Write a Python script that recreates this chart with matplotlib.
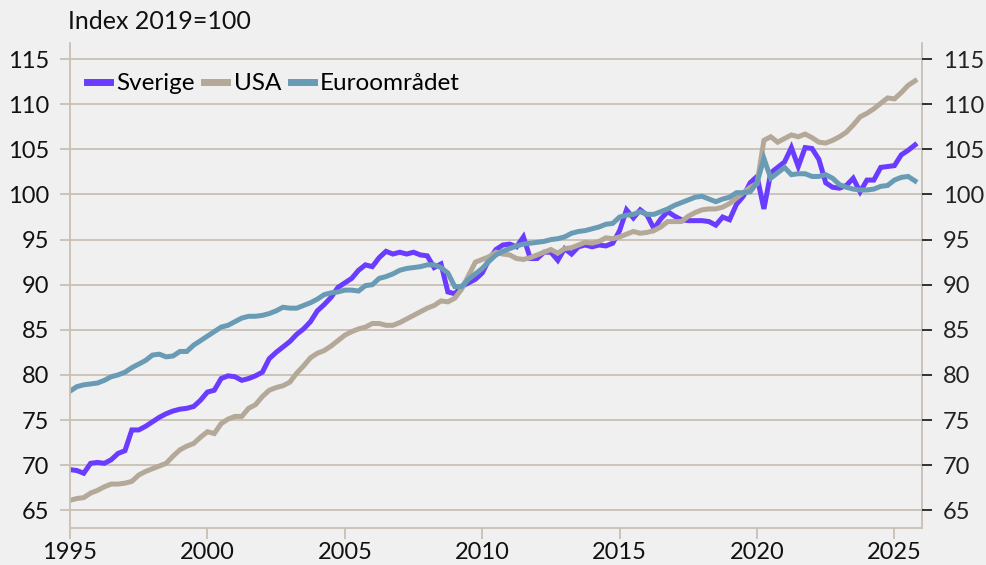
import numpy as np
import matplotlib
matplotlib.use('Agg')
import matplotlib.pyplot as plt

# quarterly, 1995Q1 .. 2025Q4 (index 2019=100)
start_year = 1995
sverige = [
    69.5, 69.4, 69.1, 70.2,   # 1995
    70.3, 70.2, 70.6, 71.3,   # 1996
    71.6, 73.9, 73.9, 74.3,   # 1997
    74.8, 75.3, 75.7, 76.0,   # 1998
    76.2, 76.3, 76.5, 77.2,   # 1999
    78.1, 78.3, 79.6, 79.9,   # 2000
    79.8, 79.4, 79.6, 79.9,   # 2001
    80.3, 81.8, 82.5, 83.1,   # 2002
    83.7, 84.5, 85.1, 85.9,   # 2003
    87.1, 87.8, 88.6, 89.7,   # 2004
    90.2, 90.7, 91.6, 92.2,   # 2005
    92.0, 93.0, 93.7, 93.4,   # 2006
    93.6, 93.4, 93.6, 93.3,   # 2007
    93.2, 91.9, 92.3, 89.2,   # 2008
    89.0, 89.8, 90.2, 90.6,   # 2009
    91.3, 92.8, 93.9, 94.4,   # 2010
    94.5, 94.2, 95.3, 92.9,   # 2011
    92.9, 93.6, 93.6, 92.7,   # 2012
    94.0, 93.4, 94.2, 94.4,   # 2013
    94.2, 94.4, 94.3, 94.6,   # 2014
    96.0, 98.3, 97.4, 98.3,   # 2015
    97.7, 96.2, 97.3, 98.1,   # 2016
    97.6, 97.2, 97.1, 97.1,   # 2017
    97.1, 97.0, 96.6, 97.5,   # 2018
    97.2, 98.9, 99.8, 101.3,  # 2019
    102.0, 98.4, 102.4, 103.0,  # 2020
    103.6, 105.2, 103.1, 105.2,  # 2021
    105.1, 103.9, 101.3, 100.8,  # 2022
    100.7, 101.0, 101.8, 100.3,  # 2023
    101.6, 101.6, 103.0, 103.1,  # 2024
    103.2, 104.4, 104.9, 105.5,  # 2025
]
usa = [
    66.1, 66.3, 66.4, 66.9,
    67.2, 67.6, 67.9, 67.9,
    68.0, 68.2, 68.9, 69.3,
    69.6, 69.9, 70.2, 71.0,
    71.7, 72.1, 72.4, 73.1,
    73.7, 73.5, 74.6, 75.1,
    75.4, 75.4, 76.3, 76.7,
    77.6, 78.3, 78.6, 78.8,
    79.2, 80.2, 81.0, 81.9,
    82.4, 82.7, 83.2, 83.8,
    84.4, 84.8, 85.1, 85.3,
    85.7, 85.7, 85.5, 85.5,
    85.8, 86.2, 86.6, 87.0,
    87.4, 87.7, 88.2, 88.1,
    88.5, 89.5, 91.0, 92.5,
    92.8, 93.1, 93.6, 93.4,
    93.3, 92.9, 92.8, 93.0,
    93.3, 93.6, 93.9, 93.5,
    94.0, 94.1, 94.4, 94.7,
    94.6, 94.8, 95.2, 95.1,
    95.3, 95.6, 95.9, 95.7,
    95.8, 96.0, 96.4, 97.0,
    97.0, 97.0, 97.6, 98.0,
    98.3, 98.4, 98.4, 98.6,
    99.0, 99.6, 100.2, 100.8,
    101.2, 106.0, 106.4, 105.8,
    106.2, 106.6, 106.4, 106.7,
    106.3, 105.8, 105.7, 106.0,
    106.4, 106.9, 107.7, 108.6,
    109.0, 109.5, 110.1, 110.7,
    110.6, 111.3, 112.1, 112.6,
]
euro = [
    78.2, 78.7, 78.9, 79.0,
    79.1, 79.4, 79.8, 80.0,
    80.3, 80.8, 81.2, 81.6,
    82.2, 82.3, 82.0, 82.1,
    82.6, 82.6, 83.3, 83.8,
    84.3, 84.8, 85.3, 85.5,
    85.9, 86.3, 86.5, 86.5,
    86.6, 86.8, 87.1, 87.5,
    87.4, 87.4, 87.7, 88.0,
    88.4, 88.9, 89.1, 89.2,
    89.4, 89.4, 89.3, 89.9,
    90.0, 90.7, 90.9, 91.2,
    91.6, 91.8, 91.9, 92.0,
    92.2, 92.2, 91.9, 91.3,
    89.8, 89.8, 90.6, 91.2,
    91.8, 92.6, 93.3, 93.7,
    94.0, 94.3, 94.5, 94.6,
    94.7, 94.8, 95.0, 95.1,
    95.3, 95.7, 95.9, 96.0,
    96.2, 96.4, 96.7, 96.8,
    97.5, 97.7, 97.8, 98.1,
    97.8, 97.8, 98.1, 98.4,
    98.8, 99.1, 99.4, 99.7,
    99.8, 99.5, 99.2, 99.5,
    99.7, 100.2, 100.2, 100.3,
    101.3, 104.0, 101.8, 102.4,
    103.0, 102.2, 102.3, 102.3,
    102.0, 102.0, 102.2, 101.8,
    101.1, 100.8, 100.6, 100.5,
    100.5, 100.6, 100.9, 101.0,
    101.6, 101.9, 102.0, 101.5,
]
labels = ['Sverige', 'USA', 'Euroområdet']
colors = ['#6a3cff', '#b4a898', '#6a9bb5']
yticks = list(range(65, 116, 5))
xticks = list(range(1995, 2026, 5))

t = start_year + np.arange(len(sverige)) * 0.25

BG = '#f0f0f0'
GRID = '#c9c0b2'
plt.rcParams['font.family'] = ['Lato', 'DejaVu Sans']

fig = plt.figure(figsize=(9.86, 5.65), dpi=100, facecolor=BG)
ax = fig.add_axes([0.071, 0.065, 0.864, 0.859], facecolor=BG)

for ys, lab, c in zip([sverige, usa, euro], labels, colors):
    ax.plot(t, ys, color=c, lw=3.6, label=lab, solid_joinstyle='miter')

ax.set_xlim(1995, 2026)
ax.set_ylim(63, 116.8)
ax.set_yticks(yticks)
ax.set_xticks(xticks)
ax.yaxis.grid(True, color=GRID, lw=1.3)
ax.set_axisbelow(True)
for s in ['left', 'bottom', 'right']:
    ax.spines[s].set_color(GRID)
    ax.spines[s].set_linewidth(1.3)
ax.spines['top'].set_visible(False)
ax.tick_params(axis='y', colors=GRID, length=7, width=1.3, labelcolor='#111111',
               labelsize=17, pad=8)
ax.tick_params(axis='x', colors=GRID, length=8, width=1.3, labelcolor='#111111',
               labelsize=17, pad=2)

ax2 = ax.twinx()
ax2.set_ylim(ax.get_ylim())
ax2.set_yticks(yticks)
for s in ax2.spines.values():
    s.set_visible(False)
ax2.tick_params(axis='y', colors='#222222', length=7, width=1.3, labelsize=17, pad=8)

leg = ax.legend(loc='upper left', bbox_to_anchor=(0.0, 0.973), ncol=3, frameon=False,
                fontsize=17.5, handlelength=0.95, handletextpad=0.25, columnspacing=0.4,
                borderaxespad=0.3)
for h in leg.get_lines():
    h.set_linewidth(5)

fig.text(0.069, 0.962, 'Index 2019=100', fontsize=18, ha='left', va='center', color='#111111')

fig.savefig('out.png', dpi=100, facecolor=BG)
